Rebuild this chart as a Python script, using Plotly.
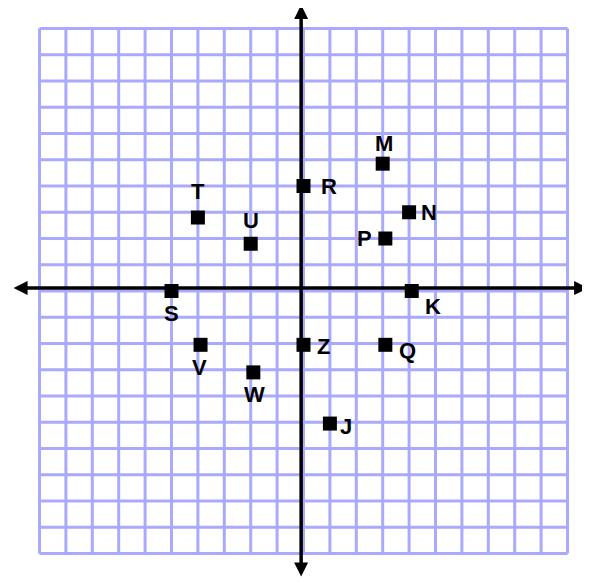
import plotly.graph_objects as go

# points (one unit = one grid square)
labels = ['M', 'R', 'N', 'T', 'P', 'U', 'S', 'K', 'V', 'Z', 'Q', 'W', 'J']
xs = [3.0, 0.0, 4.0, -4.0, 3.1, -2.0, -5.0, 4.1, -3.9, 0.0, 3.1, -1.9, 1.0]
ys = [4.85, 4.0, 3.0, 2.8, 2.0, 1.8, 0.0, 0.0, -2.05, -2.05, -2.05, -3.1, -5.05]

# where each letter sits relative to its square, in pixels (right, up)
label_shift = {
    'M': (1, 20), 'R': (25, 0), 'N': (20, 0), 'T': (0, 26), 'P': (-21, 0),
    'U': (0, 23), 'S': (0, -22), 'K': (21, -15), 'V': (-1, -23), 'Z': (20, -2),
    'Q': (22, -6), 'W': (1, -22), 'J': (16, -3),
}

grid_lo, grid_hi = -10, 10
grid_color = '#a9a9fd'

fig = go.Figure()

# blue grid paper
shapes = []
for v in range(grid_lo, grid_hi + 1):
    shapes.append(dict(type='line', x0=v, x1=v, y0=grid_lo, y1=grid_hi,
                       line=dict(color=grid_color, width=3), layer='below'))
    shapes.append(dict(type='line', x0=grid_lo, x1=grid_hi, y0=v, y1=v,
                       line=dict(color=grid_color, width=3), layer='below'))

fig.add_trace(go.Scatter(
    x=xs, y=ys, mode='markers',
    marker=dict(symbol='square', size=14, color='black'),
    hoverinfo='skip', cliponaxis=False,
))

annotations = []
for lab, x, y in zip(labels, xs, ys):
    dx, dy = label_shift[lab]
    annotations.append(dict(
        x=x, y=y, xref='x', yref='y', text=lab, showarrow=False,
        xshift=dx, yshift=dy, xanchor='center', yanchor='middle',
        font=dict(family='Liberation Sans', size=22, color='black', weight='bold'),
    ))

# the two axes with arrows at both ends
axis_x, axis_y = -0.09, 0.11
arrows = [
    dict(x=10.78, y=axis_y, ax=-11.04, ay=axis_y),
    dict(x=axis_x, y=10.9, ax=axis_x, ay=-10.93),
]
for a in arrows:
    annotations.append(dict(
        x=a['x'], y=a['y'], ax=a['ax'], ay=a['ay'], xref='x', yref='y',
        axref='x', ayref='y', text='', showarrow=True, arrowside='end+start',
        arrowhead=2, arrowsize=0.8, arrowwidth=3.5, arrowcolor='black',
    ))

# page has an 8px body margin, so the ranges are offset to keep the grid in place
fig.update_layout(
    width=590, height=582, margin=dict(l=0, r=0, t=0, b=0),
    plot_bgcolor='white', paper_bgcolor='white', showlegend=False,
    shapes=shapes, annotations=annotations,
    xaxis=dict(range=[-11.193, 11.155], visible=False, fixedrange=True),
    yaxis=dict(range=[-11.39, 10.781], visible=False, fixedrange=True),
)

fig.write_html("out.html")
